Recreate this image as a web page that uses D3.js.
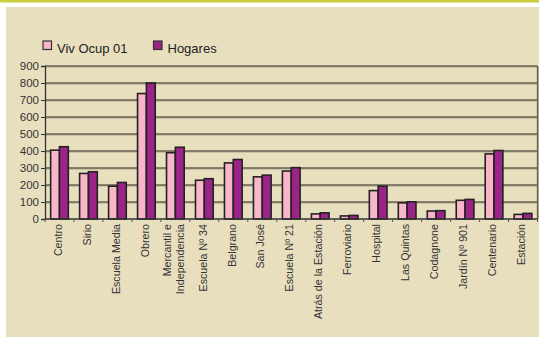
<!DOCTYPE html>
<html><head><meta charset="utf-8">
<script src="https://cdn.jsdelivr.net/npm/d3@7"></script>
<style>body{margin:0;background:#fff}svg{display:block;font-family:"Liberation Sans",Arial,sans-serif}</style>
</head><body><svg id="c" width="539" height="337"></svg>
<script>
const categories = ["Centro","Sirio","Escuela Media","Obrero","Mercantil e|Independencia","Escuela Nº 34","Belgrano","San José","Escuela Nº 21","Atrás de la Estación","Ferroviario","Hospital","Las Quintas","Codagnone","Jardín Nº 901","Centenario","Estación"];
const vivOcup = [405,268,193,738,390,228,330,248,282,30,18,167,95,47,110,383,27];
const hogares = [425,278,215,800,422,237,350,258,302,36,21,193,101,49,115,403,33];
const seriesNames = ["Viv Ocup 01","Hogares"];
const yTicks = [0,100,200,300,400,500,600,700,800,900];
const colors = ["#F9B6C9","#9C2388"];

const svg = d3.select("#c");
svg.append("rect").attr("x",0).attr("y",0).attr("width",539).attr("height",2.5).attr("fill","#C8D03F");
svg.append("rect").attr("x",6).attr("y",7).attr("width",533).attr("height",330).attr("fill","#E8DFBF");

const L=45, R=537.5, T=66, B=219;
const x = d3.scaleBand().domain(categories).range([L,R]).paddingInner(0.39).paddingOuter(0.195);
const xs = d3.scaleBand().domain(seriesNames).range([0,x.bandwidth()]);
const y = d3.scaleLinear().domain([0,900]).range([B,T]);

// gridlines
const g = svg.append("g");
yTicks.forEach(t=>{
  if(t===0) return;
  g.append("line").attr("x1",L).attr("x2",R).attr("y1",y(t)+1).attr("y2",y(t)+1).attr("stroke","#ADA68C").attr("stroke-width",1);
  g.append("line").attr("x1",L).attr("x2",R).attr("y1",y(t)).attr("y2",y(t)).attr("stroke","#666151").attr("stroke-width",1.3);
});
g.append("line").attr("x1",R).attr("x2",R).attr("y1",T).attr("y2",B).attr("stroke","#666151").attr("stroke-width",1.3);
g.append("line").attr("x1",R+1).attr("x2",R+1).attr("y1",T).attr("y2",B).attr("stroke","#ADA68C").attr("stroke-width",1);

// bars
const data = categories.map((c,i)=>({c, v:[vivOcup[i],hogares[i]]}));
const grp = svg.append("g").selectAll("g").data(data).join("g").attr("transform",d=>`translate(${x(d.c)},0)`);
grp.selectAll("rect").data(d=>d.v.map((v,j)=>({v,s:seriesNames[j],j}))).join("rect")
  .attr("x",d=>xs(d.s)).attr("width",xs.bandwidth())
  .attr("y",d=>y(d.v)).attr("height",d=>B-y(d.v))
  .attr("fill",d=>colors[d.j]).attr("stroke","#222").attr("stroke-width",1.6);

// y axis
const ya = svg.append("g").attr("transform",`translate(${L},0)`)
  .call(d3.axisLeft(y).tickValues(yTicks).tickSize(4).tickPadding(2));
ya.select(".domain").attr("stroke","#333").attr("stroke-width",1.3);
ya.selectAll(".tick line").attr("stroke","#333");
ya.selectAll("text").attr("font-size","11.5px").attr("fill","#333").attr("font-family","Liberation Sans, Arial, sans-serif");

svg.append("line").attr("x1",L).attr("x2",R).attr("y1",B).attr("y2",B).attr("stroke","#333").attr("stroke-width",1.3);
const step = x.step();
d3.range(categories.length+1).forEach(i=>{
  const xx = L + i*step;
  svg.append("line").attr("x1",xx).attr("x2",xx).attr("y1",B).attr("y2",B+3).attr("stroke","#555").attr("stroke-width",1);
});

// x labels
categories.forEach(c=>{
  const lines = c.split("|");
  const cx = x(c)+x.bandwidth()/2;
  lines.forEach((ln,k)=>{
    const off = (k-(lines.length-1)/2)*12.5;
    svg.append("text").attr("transform",`translate(${cx+off+2.2},224) rotate(-90)`)
      .attr("text-anchor","end").attr("font-size","10.7px").attr("fill","#333").text(ln);
  });
});

// legend
const leg = [{x:43,t:seriesNames[0],c:colors[0]},{x:153.5,t:seriesNames[1],c:colors[1]}];
leg.forEach(l=>{
  svg.append("rect").attr("x",l.x).attr("y",41).attr("width",8.5).attr("height",8.5).attr("fill",l.c).attr("stroke","#333").attr("stroke-width",1.2);
  svg.append("text").attr("x",l.x+14).attr("y",52.5).attr("font-size","13px").attr("fill","#222").text(l.t);
});
</script></body></html>
